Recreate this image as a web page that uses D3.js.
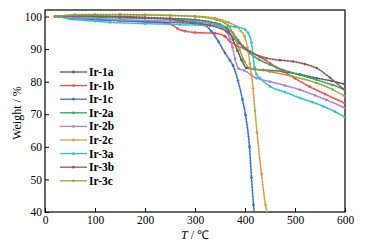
<!DOCTYPE html>
<html>
<head>
<meta charset="utf-8">
<script src="https://d3js.org/d3.v7.min.js"></script>
<style>
  body { margin: 0; background: #fff; }
</style>
</head>
<body>
<div id="TGA_CHART"></div>
<script>
// series values: [temperature in C, weight %]
var ir1a = [[20,100],[60,100.1],[100,100],[150,99.8],[200,99.6],[250,99.4],[300,99],[340,98],[363,96.4],[376,92.9],[385,89.5],[393,86.7],[403,84.2],[420,83.8],[436,83.6],[476,83.1],[510,82.2],[543,81.1],[575,80.2],[600,79.2]];
var ir1b = [[20,100],[60,99.6],[100,99.3],[150,98.8],[200,98.4],[240,98],[255,97.4],[265,96.3],[280,95.5],[300,95.1],[340,94.9],[360,93.9],[370,92.3],[385,91],[403,89.8],[429,87.7],[450,85.7],[463,84.4],[477,83.1],[500,81],[529,78.5],[560,76.2],[600,73.4]];
var ir1c = [[30,100],[60,99.4],[100,99],[150,98.7],[200,98.4],[250,98.2],[300,97.8],[320,97.3],[333,95.4],[347,92.3],[360,88.8],[370,86.5],[376,85],[386,80.3],[395,74.5],[401,69.8],[409,60],[413,50.6],[417,42.2],[418.5,40]];
var ir2a = [[20,100],[60,99.9],[100,99.8],[150,99.6],[200,99.4],[250,99.2],[300,98.8],[330,98.3],[350,97.5],[365,96.3],[376,94.9],[386,92.8],[396,90.8],[409,88.8],[429,86.7],[450,85.2],[476,83.6],[510,82.1],[543,80.6],[575,79],[600,77.5]];
var ir2b = [[20,100],[60,99.6],[100,99.4],[150,99],[200,98.8],[250,98.6],[300,98.4],[340,97.5],[355,96.5],[365,95],[370,93],[375,90.5],[380,87],[387,84],[399,83.4],[423,81.1],[450,80],[480,78.8],[510,77.5],[540,75.8],[563,74.4],[600,71.9]];
var ir2c = [[20,100],[60,100.5],[100,100.6],[150,100.6],[200,100.5],[250,100.4],[300,100.1],[340,99.5],[367,98.2],[383,96.9],[392,95.5],[399,93.9],[405,90.5],[410,85.5],[413,82],[416,78],[420,71],[424,64.5],[433,51.7],[441,42.2],[444,40]];
var ir3a = [[30,100],[50,99.2],[100,98.6],[130,98.2],[200,97.8],[270,97.5],[330,97.2],[380,96.9],[400,96],[406,95],[413,92],[416,88],[419,84.5],[423,82.3],[430,81.1],[450,78.5],[480,76.8],[510,75],[535,73.7],[557,72.4],[580,70.8],[600,69.1]];
var ir3b = [[20,100],[60,100.2],[100,100.2],[150,100],[200,99.7],[250,99.2],[276,98.5],[330,97.3],[363,95.4],[389,91.8],[409,89.3],[443,87.2],[470,86.6],[496,86.2],[520,85.4],[543,84.2],[570,81.2],[600,77.3]];
var ir3c = [[20,100],[60,100.5],[100,100.6],[150,100.6],[200,100.5],[250,100.3],[300,100],[343,99],[360,98],[369,96.9],[380,93.5],[389,89.8],[399,86.2],[409,84.2],[430,83.6],[449,83.1],[496,81.6],[543,79.6],[575,77.6],[600,75.5]];

var names = ["Ir-1a", "Ir-1b", "Ir-1c", "Ir-2a", "Ir-2b", "Ir-2c", "Ir-3a", "Ir-3b", "Ir-3c"];
var values = [ir1a, ir1b, ir1c, ir2a, ir2b, ir2c, ir3a, ir3b, ir3c];
var colors = ["#5a5a5a", "#f24b4b", "#3a6fd2", "#2aa463", "#a683d6", "#d3a046", "#2fc4c0", "#8a5b5b", "#9f9f3e"];

var xTicks = [0, 100, 200, 300, 400, 500, 600];
var yTicks = [40, 50, 60, 70, 80, 90, 100];

var WIDTH = 366, HEIGHT = 250;
var MARGIN = {LEFT: 45, RIGHT: 21, TOP: 10, BOTTOM: 38};

var svg = d3.select("#TGA_CHART")
    .append("svg")
    .attr("width", WIDTH)
    .attr("height", HEIGHT)
    .style("font-family", "'Liberation Serif', 'Times New Roman', serif");

var x = d3.scaleLinear().domain([0, 600]).range([MARGIN.LEFT, WIDTH - MARGIN.RIGHT]);
var y = d3.scaleLinear().domain([40, 102]).range([HEIGHT - MARGIN.BOTTOM, MARGIN.TOP]);

svg.append("clipPath").attr("id", "plotClip")
    .append("rect")
    .attr("x", x(0)).attr("y", y(102))
    .attr("width", x(600) - x(0)).attr("height", y(40) - y(102));

// axes, ticks point inward
var xAxis = svg.append("g")
    .attr("transform", "translate(0," + y(40) + ")")
    .call(d3.axisBottom(x).tickValues(xTicks).tickSizeInner(-4).tickSizeOuter(0).tickPadding(4));
var yAxis = svg.append("g")
    .attr("transform", "translate(" + x(0) + ",0)")
    .call(d3.axisLeft(y).tickValues(yTicks).tickSizeInner(-4).tickSizeOuter(0).tickPadding(3));

[xAxis, yAxis].forEach(function(g) {
    g.select(".domain").remove();
    g.selectAll("line").attr("stroke", "#000").attr("stroke-width", 1);
    g.selectAll("text").attr("fill", "#000").style("font-size", "11.5px").style("font-family", "'Liberation Serif', serif");
});

// frame
svg.append("rect")
    .attr("x", x(0)).attr("y", y(102))
    .attr("width", x(600) - x(0)).attr("height", y(40) - y(102))
    .attr("fill", "none").attr("stroke", "#000").attr("stroke-width", 1.2);

var line = d3.line()
    .x(function(d) { return x(d[0]); })
    .y(function(d) { return y(d[1]); })
    .curve(d3.curveMonotoneX);

var plot = svg.append("g").attr("clip-path", "url(#plotClip)");

values.forEach(function(s, i) {
    plot.append("path")
        .attr("d", line(s))
        .attr("fill", "none")
        .attr("stroke", colors[i])
        .attr("stroke-width", 1.3);
    // beaded overlay like the dense markers of the original
    plot.append("path")
        .attr("d", line(s))
        .attr("fill", "none")
        .attr("stroke", colors[i])
        .attr("stroke-width", 2.2)
        .attr("stroke-dasharray", "1 2")
        .attr("opacity", 0.6);
    plot.selectAll(null)
        .data(s)
        .enter()
        .append("circle")
        .attr("cx", function(d) { return x(d[0]); })
        .attr("cy", function(d) { return y(d[1]); })
        .attr("r", 1.3)
        .attr("fill", colors[i]);
});

// legend
var legend = svg.append("g");
names.forEach(function(n, i) {
    var ly = 72 + i * 13.6;
    legend.append("line")
        .attr("x1", 60).attr("x2", 87)
        .attr("y1", ly).attr("y2", ly)
        .attr("stroke", colors[i]).attr("stroke-width", 1.3);
    legend.append("circle")
        .attr("cx", 73.5).attr("cy", ly).attr("r", 1.4)
        .attr("fill", colors[i]);
    legend.append("text")
        .attr("x", 89).attr("y", ly + 4)
        .style("font-size", "11.5px")
        .style("font-weight", "bold")
        .text(n);
});

// axis titles
svg.append("text")
    .attr("transform", "translate(20.5," + ((y(40) + y(102)) / 2 + 2) + ") rotate(-90)")
    .attr("text-anchor", "middle")
    .style("font-size", "12px")
    .text("Weight / %");

var xt = svg.append("text")
    .attr("x", (x(0) + x(600)) / 2)
    .attr("y", 238.5)
    .attr("text-anchor", "middle")
    .style("font-size", "12px");
xt.append("tspan").style("font-style", "italic").text("T");
xt.append("tspan").text(" / ℃");
</script>
</body>
</html>
